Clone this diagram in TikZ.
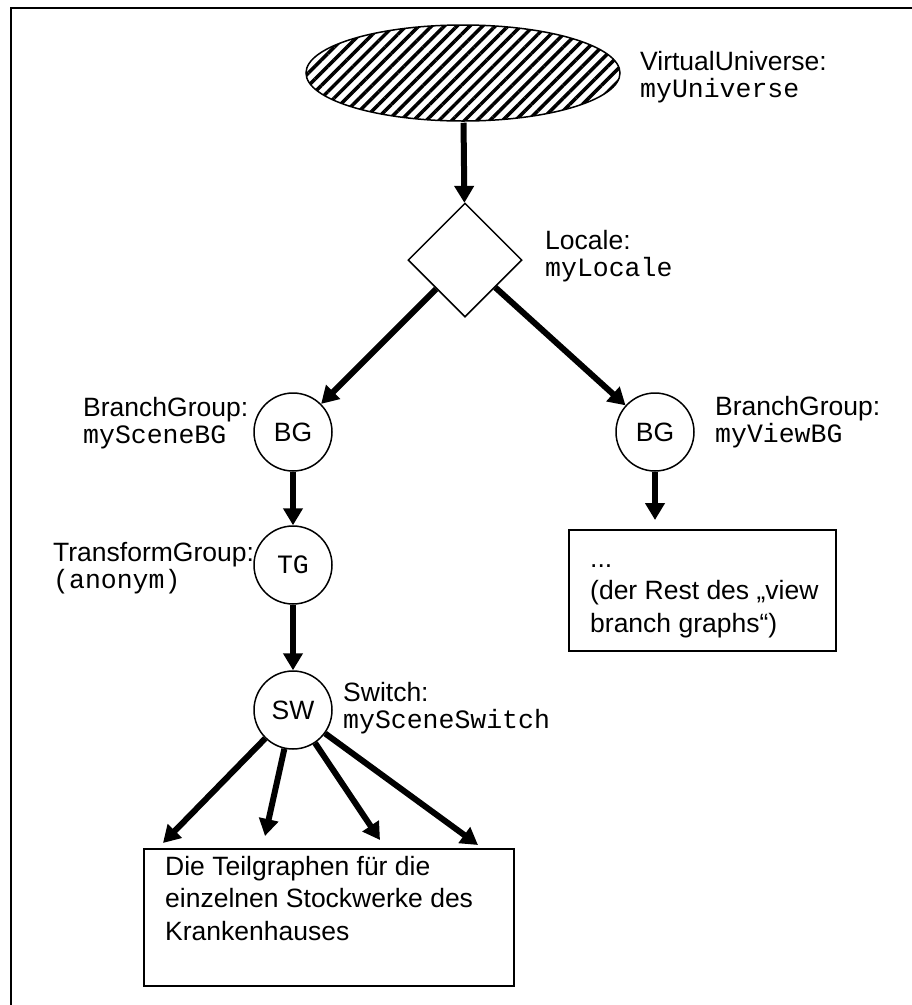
\documentclass[tikz,border=0pt]{standalone}
\usepackage{fontspec}
\setmainfont{Liberation Sans}
\setmonofont{Liberation Mono}
\usetikzlibrary{positioning, arrows.meta, shapes.geometric, patterns.meta}

\begin{document}
\begin{tikzpicture}[
    x=1pt, y=-1pt,
    every node/.style={font=\fontsize{26.5}{27}\selectfont},
    grp/.style={circle, draw, line width=1.5pt, minimum size=78pt, inner sep=0pt},
    arr/.style={-{Triangle[width=19pt, length=17pt]}, line width=6pt},
    lbl/.style={align=left, inner sep=0pt, anchor=base west},
    textbox/.style={draw, line width=1.5pt, anchor=north west, inner sep=0pt},
    boxtext/.style={align=left, inner sep=0pt, anchor=base west, font=\fontsize{26.5}{32.5}\selectfont}
  ]
  \useasboundingbox (0,0) rectangle (912,1005);
  \draw[line width=2pt] (11,1005) -- (11,7.5) -- (912,7.5);

  \node[ellipse, draw, line width=1.5pt, minimum width=314pt, minimum height=96pt, inner sep=0pt,
        pattern={Lines[angle=45, distance=9pt, line width=3.5pt]}] (univ) at (463,73) {};
  \node[diamond, draw, line width=1.5pt, minimum width=114pt, minimum height=114pt, inner sep=0pt] (locale) at (465,260) {};
  \node[grp] (scenebg) at (293,432) {BG};
  \node[grp] (viewbg)  at (655,432) {BG};
  \node[grp, font=\ttfamily\fontsize{26.5}{27}\selectfont] (tg) at (293,565) {TG};
  \node[grp] (sw) at (293,710) {SW};

  % base anchor sits on the last line
  \node[lbl] (univlbl)   at (640,97)  {VirtualUniverse:\\\texttt{myUniverse}};
  \node[lbl] (localelbl) at (545,276) {Locale:\\\texttt{myLocale}};
  \node[lbl] (scenelbl)  at (83,443)  {BranchGroup:\\\texttt{mySceneBG}};
  \node[lbl] (viewlbl)   at (715,442) {BranchGroup:\\\texttt{myViewBG}};
  \node[lbl] (tglbl)     at (53,588)  {TransformGroup:\\\texttt{(anonym)}};
  \node[lbl] (swlbl)     at (343,728) {Switch:\\\texttt{mySceneSwitch}};

  \node[textbox, minimum width=267pt, minimum height=121pt] (restbox) at (568,529) {};
  \node[boxtext] (resttext) at (590,632) {...\\(der Rest des „view\\branch graphs“)};
  \node[textbox, minimum width=370pt, minimum height=137pt] (teilbox) at (143,848) {};
  \node[boxtext] (teiltext) at (165,940) {Die Teilgraphen für die\\einzelnen Stockwerke des\\Krankenhauses};

  \coordinate (restin) at (655,520);
  \coordinate (t1) at (163,843);
  \coordinate (t2) at (265,836);
  \coordinate (t3) at (380,840);
  \coordinate (t4) at (478,845);

  \draw[arr] (univ) -- (locale);
  \draw[arr] (locale) -- (scenebg);
  \draw[arr] (locale) -- (viewbg);
  \draw[arr] (scenebg) -- (tg);
  \draw[arr] (tg) -- (sw);
  \draw[arr] (viewbg) -- (restin);
  \foreach \t in {1,...,4}
    \draw[arr] (sw) -- (t\t);
\end{tikzpicture}
\end{document}
